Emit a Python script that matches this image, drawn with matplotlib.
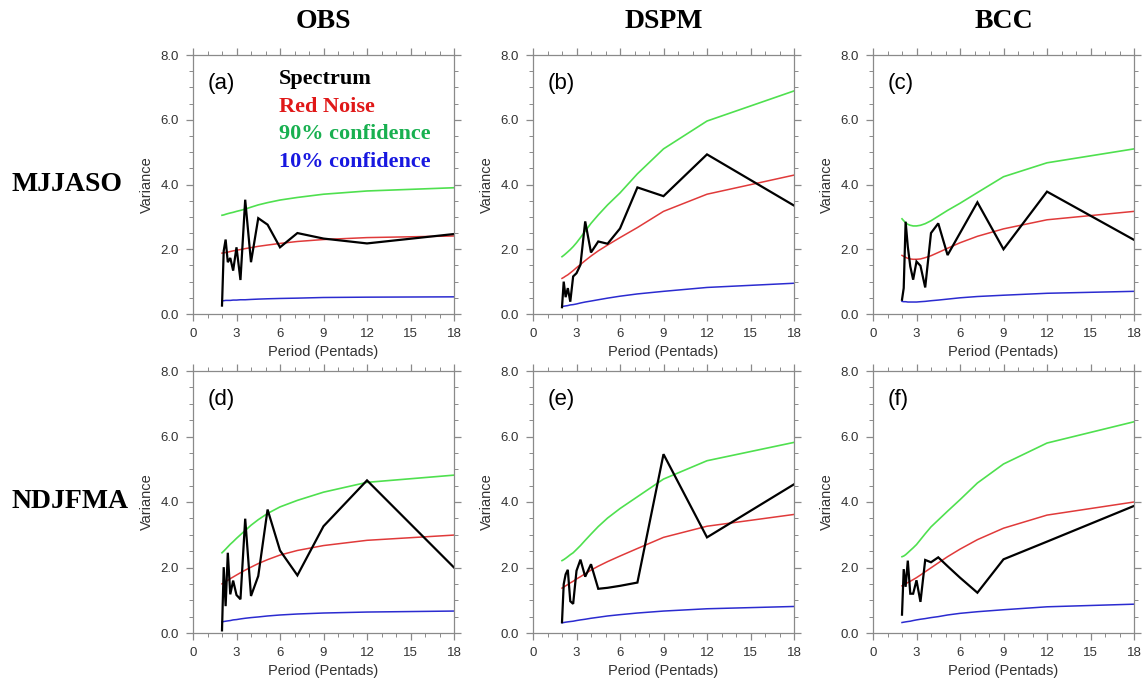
import matplotlib
matplotlib.use("Agg")
import matplotlib.pyplot as plt
from matplotlib.ticker import MultipleLocator, FormatStrFormatter

# Periods (pentads) of the spectral estimates
periods = [2.0, 2.118, 2.25, 2.4, 2.571, 2.769, 3.0, 3.273, 3.6, 4.0,
           4.5, 5.143, 6.0, 7.2, 9.0, 12.0, 18.0]

col_titles = ["OBS", "DSPM", "BCC"]
row_titles = ["MJJASO", "NDJFMA"]
panel_labels = ["(a)", "(b)", "(c)", "(d)", "(e)", "(f)"]
legend_labels = ["Spectrum", "Red Noise", "90% confidence", "10% confidence"]

# (a) OBS MJJASO
spec_a = [0.26, 1.95, 2.30, 1.60, 1.73, 1.34, 2.06, 1.05, 3.53, 1.60,
          2.96, 2.76, 2.06, 2.50, 2.33, 2.18, 2.47]
red_a = [1.88, 1.89, 1.90, 1.91, 1.93, 1.95, 1.97, 1.99, 2.02, 2.05,
         2.09, 2.13, 2.18, 2.24, 2.30, 2.36, 2.41]
g90_a = [3.05, 3.06, 3.08, 3.10, 3.12, 3.14, 3.17, 3.20, 3.24, 3.30,
         3.37, 3.44, 3.52, 3.60, 3.70, 3.80, 3.90]
b10_a = [0.41, 0.41, 0.42, 0.42, 0.42, 0.43, 0.43, 0.44, 0.44, 0.45,
         0.46, 0.47, 0.48, 0.49, 0.51, 0.52, 0.53]

# (b) DSPM MJJASO
spec_b = [0.21, 1.00, 0.52, 0.80, 0.38, 1.16, 1.26, 1.52, 2.86, 1.90,
          2.24, 2.17, 2.64, 3.91, 3.64, 4.93, 3.35]
red_b = [1.10, 1.13, 1.17, 1.21, 1.27, 1.34, 1.43, 1.53, 1.65, 1.79,
         1.95, 2.13, 2.36, 2.67, 3.17, 3.70, 4.29]
g90_b = [1.77, 1.81, 1.86, 1.92, 1.99, 2.08, 2.20, 2.36, 2.56, 2.80,
         3.06, 3.37, 3.74, 4.33, 5.10, 5.96, 6.89]
b10_b = [0.23, 0.24, 0.25, 0.26, 0.28, 0.29, 0.31, 0.34, 0.37, 0.40,
         0.44, 0.49, 0.55, 0.62, 0.70, 0.82, 0.95]

# (c) BCC MJJASO
spec_c = [0.44, 0.80, 2.85, 2.08, 1.47, 1.06, 1.62, 1.49, 0.82, 2.50,
          2.80, 1.82, 2.50, 3.45, 2.00, 3.78, 2.29]
red_c = [1.81, 1.78, 1.75, 1.72, 1.70, 1.69, 1.69, 1.70, 1.74, 1.80,
         1.90, 2.03, 2.20, 2.40, 2.63, 2.91, 3.17]
g90_c = [2.94, 2.88, 2.82, 2.77, 2.74, 2.72, 2.72, 2.74, 2.79, 2.88,
         3.02, 3.20, 3.42, 3.75, 4.24, 4.67, 5.10]
b10_c = [0.39, 0.38, 0.38, 0.37, 0.37, 0.37, 0.37, 0.38, 0.39, 0.41,
         0.43, 0.46, 0.50, 0.54, 0.58, 0.64, 0.70]

# (d) OBS NDJFMA
spec_d = [0.08, 2.01, 0.82, 2.45, 1.18, 1.60, 1.16, 1.03, 3.49, 1.13,
          1.74, 3.77, 2.52, 1.76, 3.26, 4.66, 2.00]
red_d = [1.50, 1.53, 1.57, 1.61, 1.66, 1.71, 1.77, 1.84, 1.92, 2.01,
         2.12, 2.24, 2.38, 2.52, 2.67, 2.83, 2.99]
g90_d = [2.45, 2.50, 2.56, 2.63, 2.71, 2.79, 2.89, 3.00, 3.13, 3.29,
         3.46, 3.65, 3.85, 4.05, 4.30, 4.60, 4.82]
b10_d = [0.34, 0.35, 0.36, 0.37, 0.38, 0.40, 0.41, 0.43, 0.45, 0.47,
         0.49, 0.52, 0.55, 0.58, 0.61, 0.64, 0.67]

# (e) DSPM NDJFMA
spec_e = [0.33, 1.49, 1.79, 1.93, 0.97, 0.89, 1.90, 2.24, 1.72, 2.10,
          1.35, 1.38, 1.44, 1.54, 5.46, 2.92, 4.54]
red_e = [1.37, 1.40, 1.44, 1.48, 1.53, 1.58, 1.65, 1.72, 1.81, 1.92,
         2.04, 2.18, 2.35, 2.58, 2.92, 3.26, 3.62]
g90_e = [2.21, 2.24, 2.28, 2.33, 2.39, 2.45, 2.55, 2.67, 2.83, 3.02,
         3.25, 3.51, 3.80, 4.16, 4.70, 5.26, 5.82]
b10_e = [0.31, 0.32, 0.33, 0.34, 0.35, 0.36, 0.38, 0.40, 0.42, 0.45,
         0.48, 0.52, 0.56, 0.61, 0.67, 0.74, 0.81]

# (f) BCC NDJFMA
spec_f = [0.56, 1.95, 1.41, 2.21, 1.20, 1.20, 1.61, 0.95, 2.23, 2.16,
          2.31, 2.04, 1.69, 1.23, 2.25, 2.79, 3.88]
red_f = [1.44, 1.47, 1.50, 1.54, 1.58, 1.63, 1.69, 1.77, 1.87, 1.99,
         2.14, 2.33, 2.56, 2.85, 3.20, 3.60, 4.00]
g90_f = [2.33, 2.35, 2.39, 2.45, 2.52, 2.60, 2.70, 2.85, 3.03, 3.24,
         3.45, 3.72, 4.07, 4.58, 5.16, 5.80, 6.45]
b10_f = [0.32, 0.33, 0.34, 0.35, 0.36, 0.38, 0.40, 0.42, 0.44, 0.47,
         0.50, 0.55, 0.60, 0.65, 0.71, 0.80, 0.88]

panels = [
    (spec_a, red_a, g90_a, b10_a),
    (spec_b, red_b, g90_b, b10_b),
    (spec_c, red_c, g90_c, b10_c),
    (spec_d, red_d, g90_d, b10_d),
    (spec_e, red_e, g90_e, b10_e),
    (spec_f, red_f, g90_f, b10_f),
]

SANS = ["Liberation Sans", "DejaVu Sans"]
SERIF = ["Liberation Serif", "DejaVu Serif"]

line_colors = ["black", "#e03a3a", "#4fe04f", "#2b2bd0"]
text_colors = ["black", "#e01818", "#18b050", "#1818e0"]
line_widths = [1.6, 1.1, 1.2, 1.1]

W, H = 1142, 683
fig = plt.figure(figsize=(W / 100, H / 100), dpi=100)

col_left = [193, 533, 873]
col_width = 261
row_top = [55, 371]
row_height = [259, 262]

axes_list = []
for i, (spec, red, g90, b10) in enumerate(panels):
    r, c = divmod(i, 3)
    left = col_left[c] / W
    bottom = 1 - (row_top[r] + row_height[r]) / H
    ax = fig.add_axes([left, bottom, col_width / W, row_height[r] / H])
    axes_list.append(ax)
    for series, col, lw in zip([g90, red, b10, spec],
                               [line_colors[2], line_colors[1], line_colors[3], line_colors[0]],
                               [line_widths[2], line_widths[1], line_widths[3], line_widths[0]]):
        ax.plot(periods, series, color=col, lw=lw, solid_joinstyle="miter")
    ax.set_xlim(0, 18)
    ax.set_ylim(0, 8)
    ax.xaxis.set_major_locator(MultipleLocator(3))
    ax.xaxis.set_minor_locator(MultipleLocator(1))
    ax.yaxis.set_major_locator(MultipleLocator(2))
    ax.yaxis.set_minor_locator(MultipleLocator(0.5))
    ax.yaxis.set_major_formatter(FormatStrFormatter("%.1f"))
    ax.tick_params(which="both", direction="out", top=True, right=True,
                   color="#8a8a8a", labelcolor="#333333")
    ax.tick_params(which="major", length=5, width=0.9, labelsize=9.5)
    ax.tick_params(which="minor", length=3, width=0.7)
    ax.tick_params(axis="x", which="major", pad=5)
    ax.tick_params(axis="y", which="major", pad=5)
    for lab in ax.get_xticklabels() + ax.get_yticklabels():
        lab.set_fontfamily(SANS)
    for sp in ax.spines.values():
        sp.set_color("#8a8a8a")
        sp.set_linewidth(0.9)
    ax.set_xlabel("Period (Pentads)", fontsize=10.5, family=SANS,
                  color="#333333", labelpad=4)
    ax.set_ylabel("Variance", fontsize=10.5, family=SANS,
                  color="#333333", labelpad=5)
    ax.text(0.055, 0.89, panel_labels[i], transform=ax.transAxes,
            fontsize=16, family=SANS, ha="left", va="center")

# Legend text inside panel (a)
leg_y = [0.907, 0.799, 0.695, 0.587]
for lab, col, yy in zip(legend_labels, text_colors, leg_y):
    axes_list[0].text(0.33, yy, lab, transform=axes_list[0].transAxes,
                      fontsize=16, family=SERIF, fontweight="bold",
                      color=col, ha="left", va="center")

# Column titles
for c, t in enumerate(col_titles):
    xc = (col_left[c] + col_width / 2) / W
    fig.text(xc, 1 - 22 / H, t, fontsize=20, family=SERIF,
             fontweight="bold", ha="center", va="center")

# Row titles
for r, t in enumerate(row_titles):
    yc = 1 - (row_top[r] + row_height[r] / 2) / H
    fig.text(12 / W, yc, t, fontsize=20, family=SERIF,
             fontweight="bold", ha="left", va="center")

fig.savefig("out.png", dpi=100, facecolor="white")
